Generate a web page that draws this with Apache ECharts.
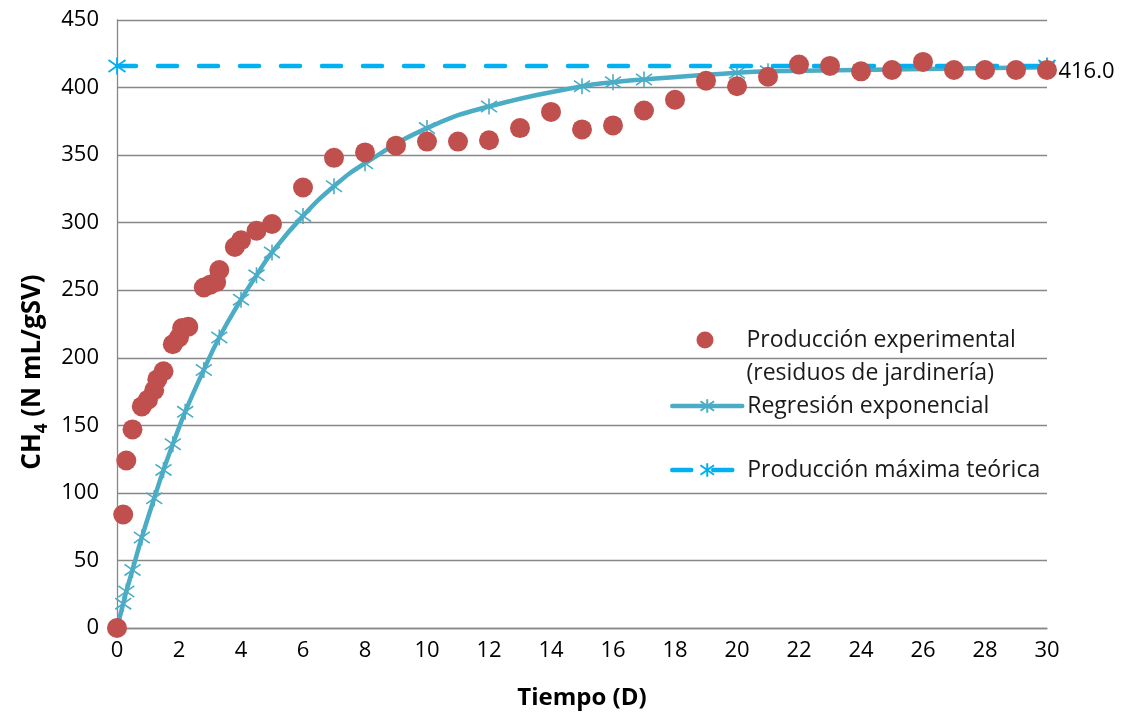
<!DOCTYPE html>
<html>
<head>
<meta charset="utf-8">
<script src="https://cdn.jsdelivr.net/npm/echarts@6/dist/echarts.min.js"></script>
<style>
  html, body { margin: 0; padding: 0; background: #ffffff; }
  #chart { width: 1125px; height: 717px; }
</style>
</head>
<body>
<div id="chart"></div>
<script>
// Measured methane yield of garden waste (days, N mL CH4 / g VS)
const expDays = [0, 0.2, 0.3, 0.5, 0.8, 1.0, 1.2, 1.3, 1.5, 1.8, 2.0, 2.1, 2.3, 2.8, 3.0, 3.2, 3.3, 3.8, 4.0, 4.5, 5,
                 6, 7, 8, 9, 10, 11, 12, 13, 14, 15, 16, 17, 18, 19, 20, 21, 22, 23, 24, 25, 26, 27, 28, 29, 30];
const expCH4  = [0, 84, 124, 147, 164, 169, 176, 184, 190, 210, 215, 222, 223, 252, 254, 256, 265, 282, 287, 294, 299,
                 326, 348, 352, 357, 360, 360, 361, 370, 382, 369, 372, 383, 391, 405, 401, 408, 417, 416, 412, 413, 419, 413, 413, 413, 413];

// Fitted exponential curve, sampled at its marker positions
const regDays = [0, 0.2, 0.3, 0.5, 0.8, 1.2, 1.5, 1.8, 2.2, 2.8, 3.3, 4, 4.5, 5, 6, 7, 8, 10, 12, 15, 16, 17, 20, 21, 30];
const regCH4  = [0, 18, 27, 43, 67, 96, 117, 136, 160, 191, 215, 243, 261, 278, 305, 327, 344, 370, 386, 401, 404, 406, 411, 412, 415];

// Theoretical maximum production
const maxDays = [0, 30];
const maxCH4 = 416;

const xTicks = { min: 0, max: 30, interval: 2 };
const yTicks = { min: 0, max: 450, interval: 50 };

const seriesNames = [
  'Producción experimental\n(residuos de jardinería)',
  'Regresión exponencial',
  'Producción máxima teórica'
];

const FONT = "'Open Sans', 'Noto Sans', sans-serif";
const STAR = 'path://M1.5,1.5L8.5,8.5M8.5,1.5L1.5,8.5M5,0L5,10';

const pairs = (xs, ys) => xs.map((x, i) => [x, Array.isArray(ys) ? ys[i] : ys]);

const chart = echarts.init(document.getElementById('chart'), null, { renderer: 'canvas' });

const legendText = { fontFamily: FONT, fontSize: 23, color: '#1a1a1a', lineHeight: 33 };
const legendBase = {
  orient: 'vertical',
  padding: 0,
  itemWidth: 70,
  itemHeight: 17,
  itemGap: 0,
  selectedMode: false,
  textStyle: legendText
};

chart.setOption({
  animation: false,
  backgroundColor: '#ffffff',
  grid: { left: 117, right: 78, top: 20, bottom: 89 },
  legend: [
    Object.assign({}, legendBase, {
      data: [seriesNames[0]],
      left: 696.5, top: 290.5,
      itemWidth: 17, itemHeight: 17,
      // blank first line keeps the marker level with the first text line
      formatter: name => ' \n' + name.split('\n').map(s => '{t|' + s + '}').join('\n'),
      textStyle: Object.assign({}, legendText, {
        rich: { t: Object.assign({}, legendText, { padding: [0, 0, 0, 28] }) }
      })
    }),
    Object.assign({}, legendBase, {
      data: [seriesNames[1]], left: 670, top: 389.5,
      lineStyle: { width: 4.5, color: '#4BACC6' }
    }),
    Object.assign({}, legendBase, {
      data: [seriesNames[2]], left: 670, top: 453.5,
      lineStyle: { width: 4.5, color: '#00B0F0', type: [19, 22], cap: 'round' }
    })
  ],
  xAxis: {
    type: 'value',
    min: xTicks.min, max: xTicks.max, interval: xTicks.interval,
    name: 'Tiempo (D)',
    nameLocation: 'middle',
    nameGap: 58,
    nameTextStyle: { fontFamily: FONT, fontSize: 24, fontWeight: 'bold', color: '#000' },
    axisLine: { show: true, lineStyle: { color: '#878787', width: 1.3 } },
    axisTick: { show: false },
    axisLabel: { fontFamily: FONT, fontSize: 22, color: '#000', margin: 12 },
    splitLine: { show: false }
  },
  yAxis: {
    type: 'value',
    min: yTicks.min, max: yTicks.max, interval: yTicks.interval,
    name: '{b|CH}{s|4}{b| (N mL/gSV)}',
    nameLocation: 'middle',
    nameGap: 66,
    nameTextStyle: {
      // extra room at the text's end pushes the title lower along the axis
      padding: [0, 96, 0, 0],
      rich: {
        b: { fontFamily: FONT, fontSize: 26, fontWeight: 'bold', color: '#000' },
        s: { fontFamily: FONT, fontSize: 17, fontWeight: 'bold', color: '#000', padding: [18, 0, 0, 0] }
      }
    },
    axisLine: { show: true, lineStyle: { color: '#878787', width: 1.3 } },
    axisTick: { show: false },
    axisLabel: { fontFamily: FONT, fontSize: 22, color: '#000', margin: 18 },
    splitLine: { show: true, lineStyle: { color: '#878787', width: 1.3 } }
  },
  series: [
    {
      name: seriesNames[0],
      type: 'scatter',
      z: 4,
      symbol: 'circle',
      symbolSize: 20,
      itemStyle: { color: '#C0504D', opacity: 1 },
      data: pairs(expDays, expCH4)
    },
    {
      name: seriesNames[1],
      type: 'line',
      z: 2,
      smooth: 0.5,
      showSymbol: true,
      showAllSymbol: true,
      symbol: STAR,
      symbolSize: 16,
      lineStyle: { color: '#4BACC6', width: 4.5, cap: 'round' },
      itemStyle: { color: '#4BACC6', borderColor: '#4BACC6', borderWidth: 1.6 },
      data: pairs(regDays, regCH4)
    },
    {
      name: seriesNames[2],
      type: 'line',
      z: 3,
      showSymbol: true,
      symbol: STAR,
      symbolSize: 17,
      lineStyle: { color: '#00B0F0', width: 4.5, type: [19, 22], cap: 'round' },
      itemStyle: { color: '#00B0F0', borderColor: '#00B0F0', borderWidth: 1.8 },
      label: {
        show: true,
        position: 'right',
        distance: 2,
        offset: [0, 6],
        fontFamily: FONT,
        fontSize: 22,
        color: '#000',
        formatter: p => (p.dataIndex === maxDays.length - 1 ? p.value[1].toFixed(1) : '')
      },
      data: pairs(maxDays, maxCH4)
    }
  ]
});
</script>
</body>
</html>
